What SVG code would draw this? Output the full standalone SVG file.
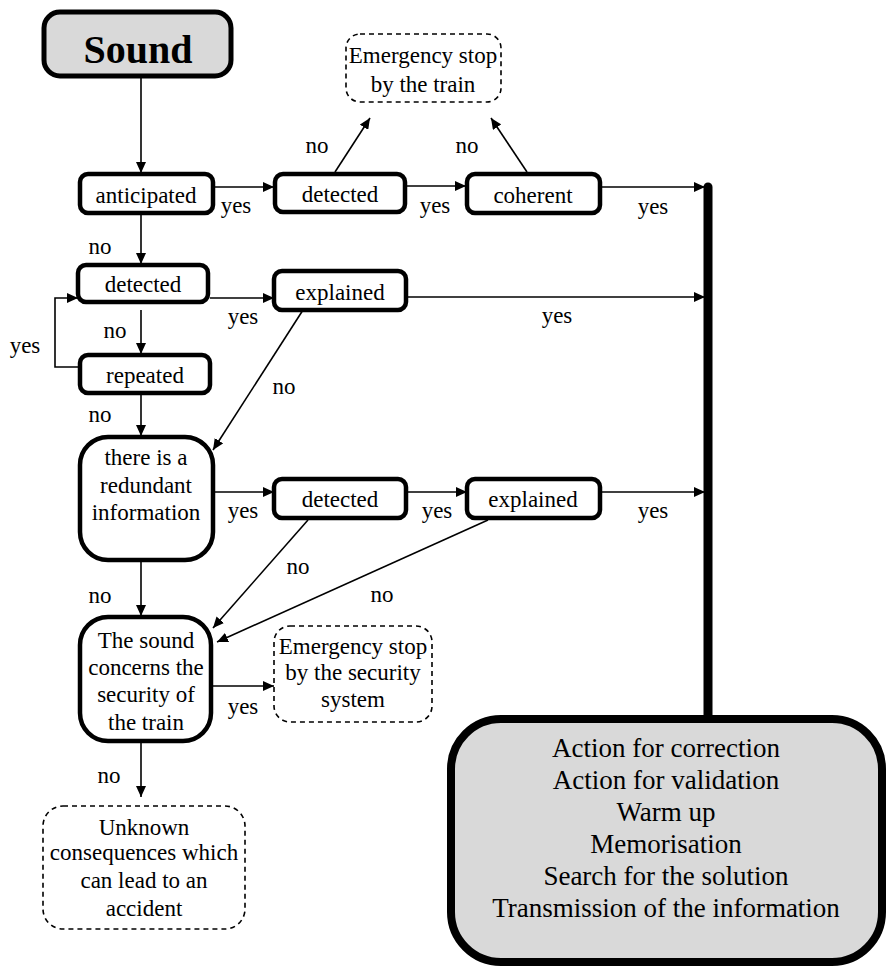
<svg xmlns="http://www.w3.org/2000/svg" width="886" height="969" viewBox="0 0 886 969">
<defs>
<marker id="ah" markerUnits="userSpaceOnUse" markerWidth="11" markerHeight="10" refX="11" refY="5" orient="auto">
<path d="M0,0 L11,5 L0,10 z" fill="#000"/>
</marker>
<style>
.box{fill:#fff;stroke:#000;stroke-width:4.5}
.dash{fill:#fff;stroke:#000;stroke-width:1.6;stroke-dasharray:5 4}
.c{fill:none;stroke:#000;stroke-width:1.6;marker-end:url(#ah)}
</style>
</defs>
<rect width="886" height="969" fill="#fff"/>

<g id="connectors">
<path class="c" d="M141,77 L141,173"/>
<path class="c" d="M213,187 L274,187"/>
<path class="c" d="M406,186 L466,186"/>
<path class="c" d="M602,187 L705,187"/>
<path class="c" d="M335,172 L370,118"/>
<path class="c" d="M527,172 L491,118"/>
<path class="c" d="M141,213 L141,264"/>
<path class="c" d="M210,298 L274,298"/>
<path class="c" d="M406,297 L705,297"/>
<path class="c" d="M141,310 L141,354"/>
<path class="c" d="M80,367 L55,367 L55,298 L78,298"/>
<path class="c" d="M141,395 L141,436"/>
<path class="c" d="M303,310 L213,450"/>
<path class="c" d="M213,492 L274,492"/>
<path class="c" d="M406,492 L467,492"/>
<path class="c" d="M602,492 L705,492"/>
<path class="c" d="M308,520 L213,628"/>
<path class="c" d="M488,520 L217,642"/>
<path class="c" d="M141,562 L141,616"/>
<path class="c" d="M213,686 L274,686"/>
<path class="c" d="M141,743 L141,797"/>
<line x1="708" y1="187" x2="708" y2="722" stroke="#000" stroke-width="9" stroke-linecap="round"/>
</g>

<g font-family="Liberation Serif" font-size="23" text-anchor="middle" fill="#000">
<g id="sound">
<rect x="44" y="12" width="187" height="64" rx="16" fill="#d9d9d9" stroke="#000" stroke-width="5"/>
<text x="138" y="63" font-family="Liberation Serif" font-weight="bold" font-size="40">Sound</text>
</g>
<g id="anticipated">
<rect class="box" x="80" y="174" width="133" height="39" rx="8"/>
<text x="146" y="203" font-family="Liberation Serif">anticipated</text>
</g>
<g id="detected1">
<rect class="box" x="275" y="174" width="130" height="38" rx="8"/>
<text x="340" y="202" font-family="Liberation Serif">detected</text>
</g>
<g id="coherent">
<rect class="box" x="467" y="174" width="133" height="39" rx="8"/>
<text x="533" y="203" font-family="Liberation Serif">coherent</text>
</g>
<g id="emergency-train">
<rect class="dash" x="346" y="34" width="155" height="68" rx="14"/>
<text x="423" y="63" font-family="Liberation Serif">Emergency stop</text>
<text x="423" y="92" font-family="Liberation Serif">by the train</text>
</g>
<g id="detected2">
<rect class="box" x="78" y="265" width="130" height="37" rx="8"/>
<text x="143" y="292" font-family="Liberation Serif">detected</text>
</g>
<g id="explained1">
<rect class="box" x="274" y="271" width="132" height="39" rx="8"/>
<text x="340" y="300" font-family="Liberation Serif">explained</text>
</g>
<g id="repeated">
<rect class="box" x="80" y="355" width="130" height="38" rx="8"/>
<text x="145" y="383" font-family="Liberation Serif">repeated</text>
</g>
<g id="redundant">
<rect class="box" x="80" y="437" width="133" height="123" rx="28"/>
<text x="146" y="465" font-family="Liberation Serif">there is a</text>
<text x="146" y="493" font-family="Liberation Serif">redundant</text>
<text x="146" y="520" font-family="Liberation Serif">information</text>
</g>
<g id="detected3">
<rect class="box" x="274" y="479" width="132" height="39" rx="8"/>
<text x="340" y="507" font-family="Liberation Serif">detected</text>
</g>
<g id="explained3">
<rect class="box" x="467" y="479" width="133" height="39" rx="8"/>
<text x="533" y="507" font-family="Liberation Serif">explained</text>
</g>
<g id="security">
<rect class="box" x="80" y="617" width="131" height="124" rx="28"/>
<text x="146" y="648" font-family="Liberation Serif">The sound</text>
<text x="146" y="675" font-family="Liberation Serif">concerns the</text>
<text x="146" y="702" font-family="Liberation Serif">security of</text>
<text x="146" y="730" font-family="Liberation Serif">the train</text>
</g>
<g id="emergency-security">
<rect class="dash" x="274" y="626" width="158" height="96" rx="16"/>
<text x="353" y="654" font-family="Liberation Serif">Emergency stop</text>
<text x="353" y="680" font-family="Liberation Serif">by the security</text>
<text x="353" y="707" font-family="Liberation Serif">system</text>
</g>
<g id="unknown">
<rect class="dash" x="43" y="806" width="202" height="123" rx="20"/>
<text x="144" y="835" font-family="Liberation Serif">Unknown</text>
<text x="144" y="860" font-family="Liberation Serif">consequences which</text>
<text x="144" y="888" font-family="Liberation Serif">can lead to an</text>
<text x="144" y="916" font-family="Liberation Serif">accident</text>
</g>
<g id="actions">
<rect x="451" y="719" width="431" height="243" rx="50" fill="#d9d9d9" stroke="#000" stroke-width="8"/>
<text x="666" y="757" font-family="Liberation Serif" font-size="27">Action for correction</text>
<text x="666" y="789" font-family="Liberation Serif" font-size="27">Action for validation</text>
<text x="666" y="821" font-family="Liberation Serif" font-size="27">Warm up</text>
<text x="666" y="853" font-family="Liberation Serif" font-size="27">Memorisation</text>
<text x="666" y="885" font-family="Liberation Serif" font-size="27">Search for the solution</text>
<text x="666" y="917" font-family="Liberation Serif" font-size="27">Transmission of the information</text>
</g>
<g id="labels">
<text x="317" y="153" font-family="Liberation Serif">no</text>
<text x="467" y="153" font-family="Liberation Serif">no</text>
<text x="236" y="213" font-family="Liberation Serif">yes</text>
<text x="435" y="213" font-family="Liberation Serif">yes</text>
<text x="653" y="214" font-family="Liberation Serif">yes</text>
<text x="100" y="254" font-family="Liberation Serif">no</text>
<text x="243" y="324" font-family="Liberation Serif">yes</text>
<text x="557" y="323" font-family="Liberation Serif">yes</text>
<text x="115" y="338" font-family="Liberation Serif">no</text>
<text x="25" y="353" font-family="Liberation Serif">yes</text>
<text x="284" y="394" font-family="Liberation Serif">no</text>
<text x="100" y="422" font-family="Liberation Serif">no</text>
<text x="243" y="518" font-family="Liberation Serif">yes</text>
<text x="437" y="518" font-family="Liberation Serif">yes</text>
<text x="653" y="518" font-family="Liberation Serif">yes</text>
<text x="298" y="574" font-family="Liberation Serif">no</text>
<text x="382" y="602" font-family="Liberation Serif">no</text>
<text x="100" y="603" font-family="Liberation Serif">no</text>
<text x="243" y="714" font-family="Liberation Serif">yes</text>
<text x="109" y="783" font-family="Liberation Serif">no</text>
</g>
</g>
</svg>
